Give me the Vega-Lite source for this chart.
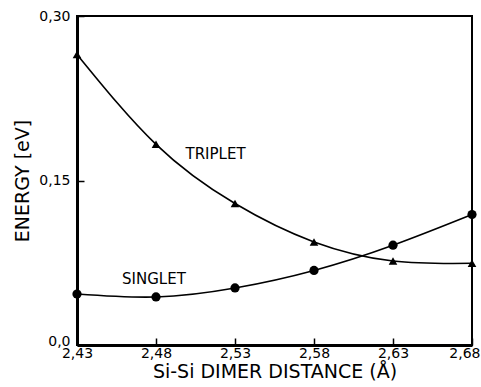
{
  "$schema": "https://vega.github.io/schema/vega-lite/v6.json",
  "width": 395,
  "height": 329,
  "autosize": "none",
  "padding": {"left": 77, "top": 16, "right": 9, "bottom": 42},
  "background": "white",
  "config": {
    "view": {"stroke": "black", "strokeWidth": 2},
    "font": "DejaVu Sans",
    "axis": {
      "grid": false,
      "domainColor": "black",
      "domainWidth": 3,
      "tickColor": "black",
      "tickWidth": 1.5,
      "tickSize": -7,
      "labelColor": "black",
      "titleColor": "black",
      "labelFont": "DejaVu Sans",
      "titleFont": "DejaVu Sans",
      "labelFontSize": 14,
      "titleFontSize": 19,
      "titleFontWeight": "normal"
    }
  },
  "datasets": {
    "curves": [
      {"series": "TRIPLET", "d": 2.43, "e": 0.265},
      {"series": "TRIPLET", "d": 2.48, "e": 0.183},
      {"series": "TRIPLET", "d": 2.53, "e": 0.129},
      {"series": "TRIPLET", "d": 2.58, "e": 0.094},
      {"series": "TRIPLET", "d": 2.63, "e": 0.0766},
      {"series": "TRIPLET", "d": 2.68, "e": 0.0745},
      {"series": "SINGLET", "d": 2.43, "e": 0.0465},
      {"series": "SINGLET", "d": 2.48, "e": 0.0438},
      {"series": "SINGLET", "d": 2.53, "e": 0.052},
      {"series": "SINGLET", "d": 2.58, "e": 0.068},
      {"series": "SINGLET", "d": 2.63, "e": 0.091},
      {"series": "SINGLET", "d": 2.68, "e": 0.119}
    ],
    "labels": [
      {"label": "TRIPLET", "d": 2.5177, "e": 0.174},
      {"label": "SINGLET", "d": 2.4787, "e": 0.0602}
    ]
  },
  "layer": [
    {
      "data": {"name": "curves"},
      "mark": {"type": "line", "interpolate": "natural", "color": "black", "strokeWidth": 1.6},
      "encoding": {
        "x": {
          "field": "d", "type": "quantitative",
          "scale": {"domain": [2.43, 2.68], "zero": false, "nice": false},
          "axis": {
            "values": [2.43, 2.48, 2.53, 2.58, 2.63, 2.68],
            "labelExpr": "replace(format(datum.value, '.2f'), '.', ',')",
            "title": "Si-Si DIMER DISTANCE (Å)",
            "labelPadding": 8,
            "titlePadding": 2,
            "labelFlush": false,
            "labelAlign": {"condition": {"test": "datum.value > 2.67", "value": "right"}, "value": "center"},
            "labelOffset": {"condition": {"test": "datum.value > 2.67", "value": 8}, "value": 0}
          }
        },
        "y": {
          "field": "e", "type": "quantitative",
          "scale": {"domain": [0, 0.3], "nice": false},
          "axis": {
            "values": [0, 0.15, 0.3],
            "labelExpr": "datum.value == 0 ? '0,0' : replace(format(datum.value, '.2f'), '.', ',')",
            "title": "ENERGY  [eV]",
            "labelPadding": 14,
            "titlePadding": 6,
            "labelFlush": false,
            "labelBaseline": {"condition": {"test": "datum.value == 0", "value": "alphabetic"}, "value": "middle"}
          }
        },
        "detail": {"field": "series"}
      }
    },
    {
      "data": {"name": "curves"},
      "mark": {"type": "point", "filled": true, "opacity": 1, "color": "black"},
      "encoding": {
        "x": {"field": "d", "type": "quantitative"},
        "y": {"field": "e", "type": "quantitative"},
        "shape": {
          "field": "series", "type": "nominal",
          "scale": {"domain": ["TRIPLET", "SINGLET"], "range": ["triangle-up", "circle"]},
          "legend": null
        },
        "size": {
          "field": "series", "type": "nominal",
          "scale": {"domain": ["TRIPLET", "SINGLET"], "range": [75, 85]},
          "legend": null
        }
      }
    },
    {
      "data": {"name": "labels"},
      "mark": {"type": "text", "font": "DejaVu Sans", "fontSize": 15, "color": "black", "align": "center", "baseline": "middle"},
      "encoding": {
        "x": {"field": "d", "type": "quantitative"},
        "y": {"field": "e", "type": "quantitative"},
        "text": {"field": "label"}
      }
    }
  ]
}
